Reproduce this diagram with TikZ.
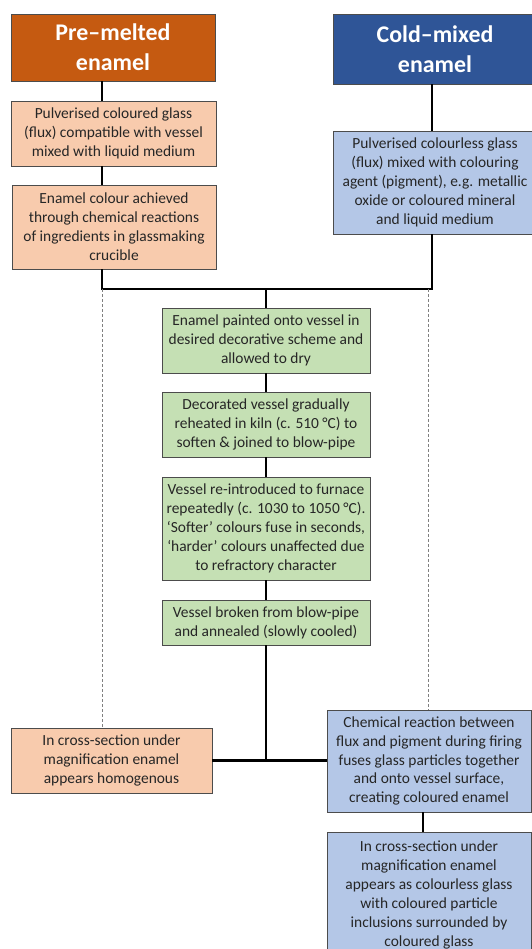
\documentclass[tikz,border=0pt]{standalone}
\usepackage{fontspec}
\setmainfont{Carlito}
\usetikzlibrary{positioning}

\definecolor{orangedark}{HTML}{C55A11}
\definecolor{orangelight}{HTML}{F8CBAD}
\definecolor{bluedark}{HTML}{2F5597}
\definecolor{bluelight}{HTML}{B4C7E7}
\definecolor{greenlight}{HTML}{C5E0B4}
\definecolor{boxtext}{HTML}{262626}

\tikzset{
  stepbox/.style={draw=black!70, line width=0.8bp, align=center, inner sep=2bp,
    font=\fontsize{15.5}{19}\selectfont, text=boxtext},
  headbox/.style={stepbox, text=white, font=\fontsize{24}{30}\selectfont\bfseries},
  link/.style={line width=2.8bp},
  dotlink/.style={line width=0.6bp, gray, dash pattern=on 3bp off 2bp}
}

\begin{document}
\begin{tikzpicture}[x=1bp,y=-1bp]
  \useasboundingbox (0,0) rectangle (532,949);

  % two headings
  \node [headbox, fill=orangedark, minimum width=204bp, minimum height=67bp] (hl) at (113,47.5) {Pre–melted\\enamel};
  \node [headbox, fill=bluedark, minimum width=204bp, minimum height=70bp] (hr) at (435,49) {Cold–mixed\\enamel};

  % left branch
  \node [stepbox, fill=orangelight, minimum width=205bp, minimum height=65bp] (l1) at (113.5,133.5)
    {Pulverised coloured glass\\(flux) compatible with vessel\\mixed with liquid medium};
  \node [stepbox, fill=orangelight, minimum width=204bp, minimum height=84bp] (l2) at (114,227)
    {Enamel colour achieved\\through chemical reactions\\of ingredients in glassmaking\\crucible};

  % right branch
  \node [stepbox, fill=bluelight, minimum width=204bp, minimum height=103bp] (r1) at (435,182.5)
    {Pulverised colourless glass\\(flux) mixed with colouring\\agent (pigment), e.g. metallic\\oxide or coloured mineral\\and liquid medium};

  % common steps
  \node [stepbox, fill=greenlight, minimum width=208bp, minimum height=65bp] (g1) at (266,340.5)
    {Enamel painted onto vessel in\\desired decorative scheme and\\allowed to dry};
  \node [stepbox, fill=greenlight, minimum width=208bp, minimum height=65bp] (g2) at (266,424.5)
    {Decorated vessel gradually\\reheated in kiln (c. 510 °C) to\\soften \& joined to blow-pipe};
  \node [stepbox, fill=greenlight, minimum width=208bp, minimum height=103bp] (g3) at (266,528.5)
    {Vessel re-introduced to furnace\\repeatedly (c. 1030 to 1050 °C).\\‘Softer’ colours fuse in seconds,\\‘harder’ colours unaffected due\\to refractory character};
  \node [stepbox, fill=greenlight, minimum width=208bp, minimum height=45bp] (g4) at (266,622.5)
    {Vessel broken from blow-pipe\\and annealed (slowly cooled)};

  % results
  \node [stepbox, fill=orangelight, minimum width=201bp, minimum height=65bp] (lb) at (111.5,760.5)
    {In cross-section under\\magnification enamel\\appears homogenous};
  \node [stepbox, fill=bluelight, minimum width=204bp, minimum height=102bp] (rc) at (429,761)
    {Chemical reaction between\\flux and pigment during firing\\fuses glass particles together\\and onto vessel surface,\\creating coloured enamel};
  \node [stepbox, fill=bluelight, minimum width=204bp, minimum height=126bp] (rf) at (429,895)
    {In cross-section under\\magnification enamel\\appears as colourless glass\\with coloured particle\\inclusions surrounded by\\coloured glass};

  % spines
  \coordinate (lspine) at (102,0);
  \coordinate (rspine) at (432,0);
  \coordinate (join) at (266,289);

  \draw [link] (hl.south -| lspine) -- (l1.north -| lspine);
  \draw [link] (l1.south -| lspine) -- (l2.north -| lspine);
  \draw [link] (hr.south -| rspine) -- (r1.north -| rspine);
  \draw [link] (l2.south -| lspine) |- (join) -| (r1.south -| rspine);
  \draw [link] (join) -- (g1.north);
  \draw [link] (g1) -- (g2);
  \draw [link] (g2) -- (g3);
  \draw [link] (g3) -- (g4);
  \draw [link] (g4.south) -- (g4.south |- lb.east);
  \draw [link] (lb.east) -- (lb.east -| rc.west);
  \draw [link] (rc.south -| 423,0) -- (rf.north -| 423,0);

  \draw [dotlink] (join -| lspine) -- (lb.north -| lspine);
  \draw [dotlink] (join -| 428,0) -- (rc.north -| 428,0);
\end{tikzpicture}
\end{document}
